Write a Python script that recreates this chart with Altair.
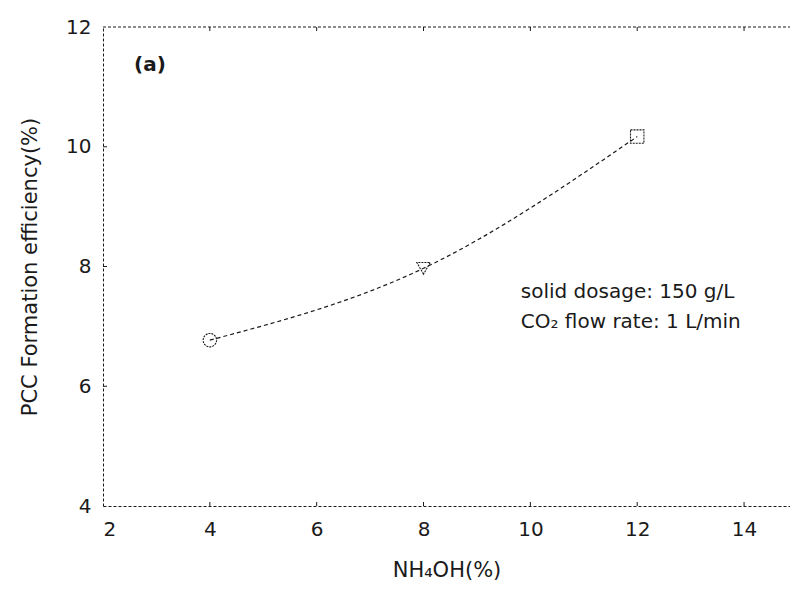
import altair as alt
import pandas as pd

# data
nh4oh = [4, 8, 12]
efficiency = [6.77, 7.97, 10.17]
shapes = ["circle", "triangle-down", "square"]

x_ticks = [2, 4, 6, 8, 10, 12, 14]
y_ticks = [4, 6, 8, 10, 12]

notes_text = ["solid dosage: 150 g/L", "CO\u2082 flow rate: 1 L/min"]
notes_x = [9.82, 9.82]
notes_y = [7.57, 7.07]

panel_text = ["(a)"]
panel_x = [2.88]
panel_y = [11.37]

X_DOMAIN = [2, 14.86]
Y_DOMAIN = [4, 12]
W, H = 687, 479
FONT = "DejaVu Sans"
INK = "#1a1a1a"

df = pd.DataFrame({"x": nh4oh, "y": efficiency, "shape": shapes})
notes = pd.DataFrame({"x": notes_x, "y": notes_y, "t": notes_text})
panel = pd.DataFrame({"x": panel_x, "y": panel_y, "t": panel_text})
xt = pd.DataFrame({"v": x_ticks[1:]})
yt = pd.DataFrame({"v": y_ticks[1:-1]})

xs = alt.Scale(domain=X_DOMAIN, nice=False, zero=False)
ys = alt.Scale(domain=Y_DOMAIN, nice=False, zero=False)

x_axis = alt.Axis(values=x_ticks, format="d", title="NH\u2084OH(%)", ticks=False, grid=False,
                  domainDash=[3, 2], domainColor=INK, domainWidth=1,
                  labelFontSize=20, labelFont=FONT, labelColor=INK, labelPadding=13,
                  titleFontSize=21, titleFont=FONT, titleColor=INK, titleFontWeight="normal",
                  titlePadding=20)
y_axis = alt.Axis(values=y_ticks, format="d", title="PCC Formation efficiency(%)", ticks=False, grid=False,
                  domainDash=[3, 2], domainColor=INK, domainWidth=1,
                  labelFontSize=20, labelFont=FONT, labelColor=INK, labelPadding=12,
                  titleFontSize=21, titleFont=FONT, titleColor=INK, titleFontWeight="normal",
                  titlePadding=25)

line = alt.Chart(df).mark_line(color=INK, strokeDash=[4, 3], strokeWidth=1.2,
                               interpolate="natural").encode(
    x=alt.X("x:Q", scale=xs, axis=x_axis),
    y=alt.Y("y:Q", scale=ys, axis=y_axis),
)

top_border = alt.Chart(df.head(1)).mark_rule(color=INK, strokeWidth=1, strokeDash=[3, 2]).encode(
    x=alt.value(0), x2=alt.value(W), y=alt.value(0))

points = alt.Chart(df).mark_point(filled=False, color=INK, strokeWidth=1.1, size=180,
                                  strokeDash=[2, 1], opacity=1).encode(
    x=alt.X("x:Q", scale=xs),
    y=alt.Y("y:Q", scale=ys),
    shape=alt.Shape("shape:N", scale=None, legend=None),
)

xtick_b = alt.Chart(xt).mark_rule(color=INK, strokeWidth=1).encode(
    x=alt.X("v:Q", scale=xs), y=alt.value(H), y2=alt.value(H - 4))
xtick_t = alt.Chart(xt).mark_rule(color=INK, strokeWidth=1).encode(
    x=alt.X("v:Q", scale=xs), y=alt.value(0), y2=alt.value(4))
ytick_l = alt.Chart(yt).mark_rule(color=INK, strokeWidth=1).encode(
    y=alt.Y("v:Q", scale=ys), x=alt.value(0), x2=alt.value(4))

note_marks = alt.Chart(notes).mark_text(align="left", baseline="middle", font=FONT,
                                        fontSize=20, color=INK).encode(
    x=alt.X("x:Q", scale=xs), y=alt.Y("y:Q", scale=ys), text="t:N")

panel_mark = alt.Chart(panel).mark_text(align="center", baseline="middle", font=FONT,
                                        fontSize=20, fontWeight="bold", color=INK).encode(
    x=alt.X("x:Q", scale=xs), y=alt.Y("y:Q", scale=ys), text="t:N")

chart = alt.layer(line, top_border, points, xtick_b, xtick_t, ytick_l, note_marks, panel_mark).properties(
    width=W, height=H,
    autosize=alt.AutoSizeParams(type="none"),
    padding={"left": 103, "top": 27, "right": 0, "bottom": 89},
    background="white",
).configure_view(stroke=None)

chart.save("out.html", embed_options={"renderer": "svg", "actions": False})
